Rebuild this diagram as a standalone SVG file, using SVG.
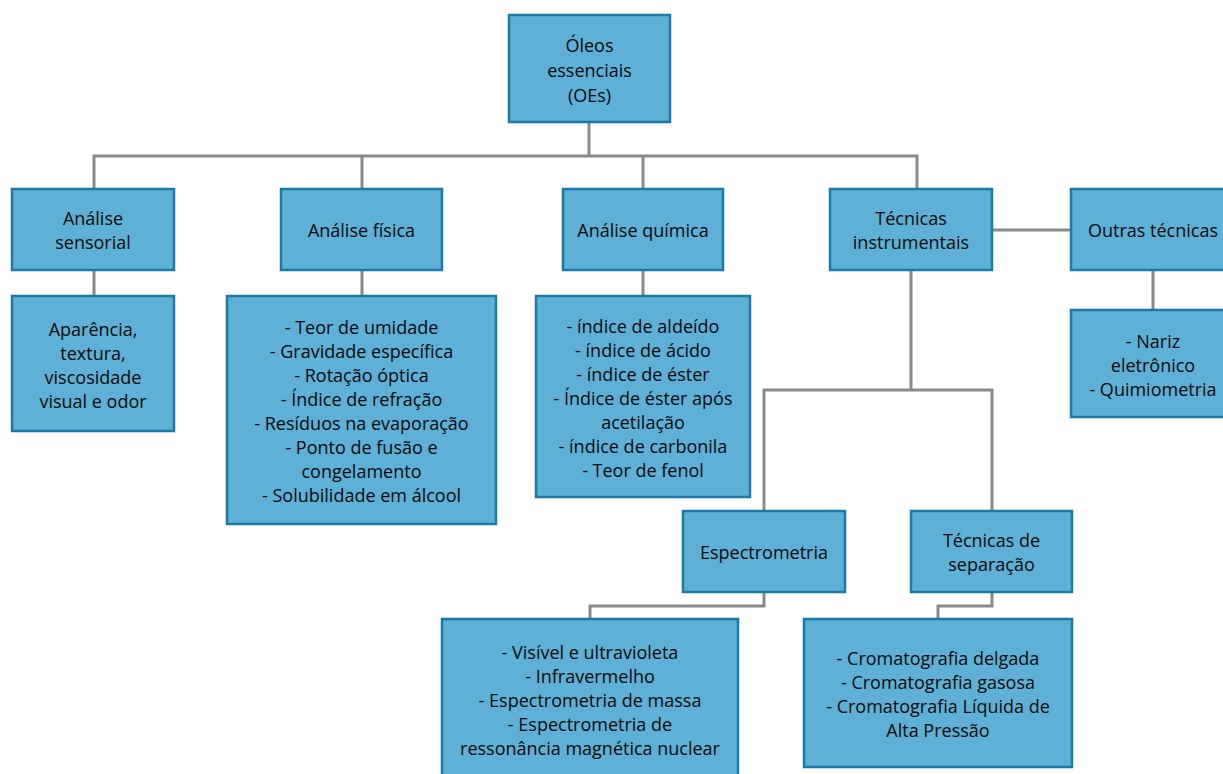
<svg xmlns="http://www.w3.org/2000/svg" width="1223" height="774" viewBox="0 0 1223 774">
<style>
.box{fill:#5fb0d6;stroke:#1b7aa8;stroke-width:2.5}
.t{font-family:"Open Sans","Noto Sans","DejaVu Sans",sans-serif;font-size:18px;fill:#0a0a0a;text-anchor:middle;dominant-baseline:central}
.c{fill:none;stroke:#8a8a8a;stroke-width:3}
</style>
<rect width="1223" height="774" fill="#fff"/>
<g id="connectors">
<path class="c" d="M589 122V155M94 189V156H917V189M362 156V189M643 156V189"/>
<path class="c" d="M94 270V296M362 270V296M643 270V296M1153 270V310M992 230H1071"/>
<path class="c" d="M911 270V390M764 511V390H992V511"/>
<path class="c" d="M764 592V606H590V619M992 592V606H938V619"/>
</g>
<g id="n-oleos"><rect class="box" x="509" y="15" width="161" height="107"/>
<text class="t" x="589.5"><tspan x="589.5" y="45">Óleos</tspan><tspan x="589.5" y="70">essenciais</tspan><tspan x="589.5" y="95">(OEs)</tspan></text></g>
<g id="n-sensorial"><rect class="box" x="12" y="189" width="162" height="81"/>
<text class="t"><tspan x="93" y="218">Análise</tspan><tspan x="93" y="242">sensorial</tspan></text></g>
<g id="n-fisica"><rect class="box" x="281" y="189" width="161" height="81"/>
<text class="t" x="361.5" y="230">Análise física</text></g>
<g id="n-quimica"><rect class="box" x="563" y="189" width="160" height="81"/>
<text class="t" x="643" y="230">Análise química</text></g>
<g id="n-tecnicas"><rect class="box" x="830" y="189" width="162" height="81"/>
<text class="t"><tspan x="911" y="218">Técnicas</tspan><tspan x="911" y="242">instrumentais</tspan></text></g>
<g id="n-outras"><rect class="box" x="1071" y="189" width="164" height="81"/>
<text class="t" x="1153" y="230">Outras técnicas</text></g>
<g id="n-aparencia"><rect class="box" x="12" y="296" width="162" height="135"/>
<text class="t"><tspan x="93" y="329">Aparência,</tspan><tspan x="93" y="353">textura,</tspan><tspan x="93" y="377">viscosidade</tspan><tspan x="93" y="401">visual e odor</tspan></text></g>
<g id="n-fisica-list"><rect class="box" x="227" y="296" width="269" height="228"/>
<text class="t"><tspan x="361.5" y="327">- Teor de umidade</tspan><tspan x="361.5" y="351">- Gravidade específica</tspan><tspan x="361.5" y="375">- Rotação óptica</tspan><tspan x="361.5" y="399">- Índice de refração</tspan><tspan x="361.5" y="423">- Resíduos na evaporação</tspan><tspan x="361.5" y="447">- Ponto de fusão e</tspan><tspan x="361.5" y="471">congelamento</tspan><tspan x="361.5" y="495">- Solubilidade em álcool</tspan></text></g>
<g id="n-quimica-list"><rect class="box" x="536" y="296" width="214" height="201"/>
<text class="t"><tspan x="643" y="326">- índice de aldeído</tspan><tspan x="643" y="350">- índice de ácido</tspan><tspan x="643" y="374">- índice de éster</tspan><tspan x="643" y="398">- Índice de éster após</tspan><tspan x="643" y="422">acetilação</tspan><tspan x="643" y="446">- índice de carbonila</tspan><tspan x="643" y="470">- Teor de fenol</tspan></text></g>
<g id="n-outras-list"><rect class="box" x="1071" y="310" width="164" height="107"/>
<text class="t"><tspan x="1153" y="341">- Nariz</tspan><tspan x="1153" y="365">eletrônico</tspan><tspan x="1153" y="389">- Quimiometria</tspan></text></g>
<g id="n-espectrometria"><rect class="box" x="683" y="511" width="162" height="81"/>
<text class="t" x="764" y="552">Espectrometria</text></g>
<g id="n-separacao"><rect class="box" x="911" y="511" width="161" height="81"/>
<text class="t"><tspan x="991.5" y="540">Técnicas de</tspan><tspan x="991.5" y="564">separação</tspan></text></g>
<g id="n-espectro-list"><rect class="box" x="442" y="619" width="296" height="165"/>
<text class="t"><tspan x="590" y="652">- Visível e ultravioleta</tspan><tspan x="590" y="676">- Infravermelho</tspan><tspan x="590" y="700">- Espectrometria de massa</tspan><tspan x="590" y="724">- Espectrometria de</tspan><tspan x="590" y="748">ressonância magnética nuclear</tspan></text></g>
<g id="n-crom-list"><rect class="box" x="804" y="619" width="268" height="148"/>
<text class="t"><tspan x="938" y="658">- Cromatografia delgada</tspan><tspan x="938" y="682">- Cromatografia gasosa</tspan><tspan x="938" y="706">- Cromatografia Líquida de</tspan><tspan x="938" y="730">Alta Pressão</tspan></text></g>
</svg>
